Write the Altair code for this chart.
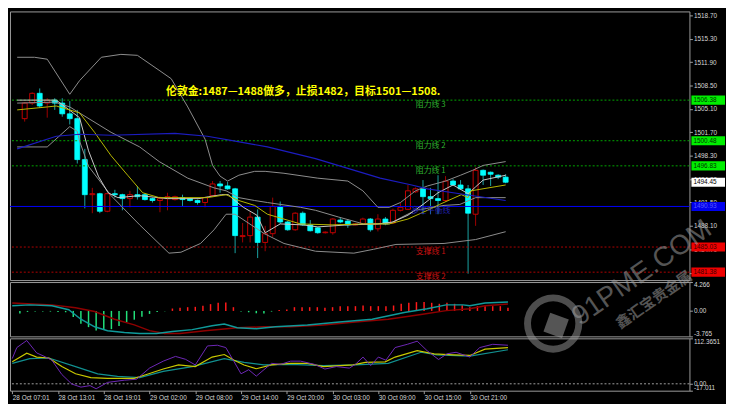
import json
import altair as alt
import pandas as pd

# ---------------- data ----------------
bars = list(range(1, 66))
opens = [1503.69, 1505.95, 1507.37, 1505.95, 1506.38, 1505.95, 1504.39, 1503.69, 1497.74, 1492.64,
         1492.78, 1490.23, 1492.78, 1492.64, 1492.07, 1492.64, 1492.64, 1492.07, 1491.79, 1492.07,
         1491.93, 1492.21, 1492.07, 1491.79, 1491.50, 1492.50, 1494.20, 1493.91, 1493.49, 1486.55,
         1486.69, 1489.38, 1485.70, 1486.97, 1490.94, 1488.67, 1487.54, 1489.95, 1488.25, 1487.82,
         1487.11, 1487.11, 1488.95, 1488.81, 1488.25, 1488.39, 1489.10, 1487.68, 1489.10, 1488.53,
         1490.37, 1490.51, 1493.06, 1493.49, 1492.35, 1492.07, 1491.79, 1494.62, 1494.05, 1493.49,
         1489.80, 1496.18, 1495.90, 1495.47, 1495.19]
highs = [1506.09, 1507.51, 1508.08, 1506.66, 1506.66, 1506.66, 1506.24, 1504.96, 1499.30, 1493.63,
         1492.92, 1492.92, 1493.35, 1492.78, 1493.20, 1493.91, 1492.78, 1492.21, 1492.35, 1492.92,
         1492.50, 1492.64, 1492.21, 1491.93, 1492.35, 1494.62, 1494.62, 1494.48, 1493.63, 1488.53,
         1490.09, 1490.51, 1488.11, 1492.21, 1491.65, 1488.81, 1490.09, 1490.20, 1488.95, 1487.96,
         1487.30, 1489.24, 1489.38, 1489.10, 1488.50, 1489.30, 1489.24, 1489.80, 1489.40, 1490.60,
         1491.50, 1494.05, 1493.70, 1494.76, 1493.63, 1495.47, 1495.33, 1494.90, 1494.76, 1494.05,
         1496.60, 1496.30, 1496.00, 1495.60, 1495.61]
lows = [1503.26, 1505.67, 1505.24, 1503.83, 1504.96, 1503.97, 1502.84, 1497.17, 1490.65, 1489.95,
        1489.95, 1490.09, 1492.21, 1490.37, 1490.80, 1491.93, 1491.79, 1491.50, 1490.09, 1490.37,
        1491.79, 1491.00, 1491.65, 1491.20, 1490.80, 1492.35, 1492.92, 1493.35, 1484.14, 1485.70,
        1485.70, 1483.43, 1484.42, 1486.50, 1488.39, 1487.40, 1487.40, 1488.10, 1487.30, 1486.97,
        1487.00, 1486.83, 1488.50, 1487.82, 1488.20, 1488.30, 1487.26, 1487.30, 1488.20, 1488.39,
        1490.20, 1490.40, 1492.90, 1489.80, 1489.80, 1489.80, 1491.60, 1493.90, 1493.35, 1481.16,
        1488.11, 1494.05, 1493.91, 1494.90, 1494.30]
closes = [1505.95, 1507.37, 1505.53, 1506.38, 1505.95, 1504.39, 1503.69, 1497.74, 1492.64, 1492.78,
          1490.23, 1492.78, 1492.64, 1492.07, 1492.64, 1492.35, 1491.93, 1491.79, 1492.07, 1492.35,
          1492.35, 1491.93, 1491.79, 1491.50, 1492.21, 1494.20, 1493.91, 1493.49, 1486.69, 1486.69,
          1489.38, 1485.70, 1486.97, 1490.94, 1488.67, 1487.54, 1489.95, 1488.25, 1487.40, 1487.11,
          1487.20, 1489.10, 1488.67, 1488.25, 1488.39, 1489.10, 1487.54, 1489.10, 1488.39, 1490.37,
          1490.80, 1493.20, 1493.49, 1492.35, 1492.07, 1491.79, 1494.62, 1494.05, 1493.49, 1489.95,
          1496.18, 1495.47, 1495.61, 1495.19, 1494.45]

# Bollinger bands and moving averages (bar, price)
upper_bar = [0, 2.3, 4, 7, 8.3, 11.2, 13.8, 16, 19, 20.5, 22.7, 25, 26, 27, 28, 29.5, 31.6, 33, 35.5, 40,
             44, 46, 48, 49.5, 51, 53, 54.6, 57, 59, 60.6, 62, 65]
upper_val = [1512.61, 1512.61, 1512.33, 1507.23, 1509.21, 1512.61, 1513.03, 1512.89, 1510.63, 1509.49,
             1505.39, 1500.71, 1496.89, 1495.33, 1494.62, 1495.47, 1496.03, 1496.03, 1495.75, 1495.04,
             1494.62, 1493.20, 1490.80, 1490.80, 1491.50, 1493.20, 1493.91, 1494.62, 1495.47, 1496.18,
             1496.89, 1497.45]
lower_bar = [0, 4, 7, 8, 8.3, 9.5, 12.5, 16.3, 20.2, 21.8, 24.4, 26.2, 27.8, 29, 32.9, 35.5, 39.7, 44.8,
             47.4, 50.4, 56.8, 61, 65]
lower_val = [1499.58, 1499.58, 1502.53, 1501.84, 1500.43, 1496.75, 1492.50, 1488.25, 1484.14, 1484.28,
             1485.55, 1487.54, 1489.80, 1489.80, 1486.97, 1485.55, 1484.42, 1484.14, 1484.70, 1485.41,
             1485.55, 1486.12, 1487.26]
mid_bar = [0, 5, 7, 12.5, 16.3, 18.9, 22.7, 26.2, 27.8, 29.5, 31.6, 33.3, 37.7, 39.7, 42.8, 46.1, 49.5,
           51.2, 53, 56.8, 58.9, 61, 65]
mid_val = [1505.95, 1506.09, 1505.39, 1501.70, 1499.58, 1497.45, 1495.04, 1493.63, 1493.20, 1492.21,
           1491.79, 1491.50, 1490.80, 1490.37, 1489.38, 1488.39, 1488.39, 1489.38, 1490.37, 1491.08,
           1491.22, 1492.21, 1492.21]
fast_bar = [0, 5.2, 8.3, 9.5, 10.8, 12.1, 13.4, 16.3, 20, 24.2, 25.5, 27.2, 28.1, 28.8, 30.1, 31.9, 33,
            35, 38, 40, 44, 48, 50, 52, 54, 56, 58, 60, 61, 62, 65]
fast_val = [1506.38, 1506.38, 1503.83, 1499.01, 1495.33, 1492.92, 1492.21, 1492.50, 1492.07, 1492.07,
            1492.35, 1492.64, 1492.64, 1491.93, 1490.80, 1489.66, 1487.10, 1488.39, 1488.25, 1487.96,
            1488.25, 1488.39, 1488.67, 1489.66, 1491.22, 1492.92, 1494.05, 1492.78, 1493.77, 1494.76,
            1495.47]
yel_bar = [0, 4, 5.2, 8.3, 10.3, 12.5, 14.7, 16.7, 18.9, 25.3, 27.8, 29.5, 31.6, 33.3, 37.7, 41.9, 46.1,
           49.5, 52, 54.6, 56.2, 59.1, 60, 60.4, 65]
yel_val = [1504.96, 1505.39, 1505.53, 1504.53, 1501.70, 1498.30, 1495.47, 1492.92, 1492.21, 1492.21,
           1492.64, 1491.79, 1491.08, 1489.80, 1488.39, 1488.25, 1488.39, 1488.39, 1489.10, 1490.37,
           1491.22, 1492.64, 1492.21, 1493.20, 1494.05]
blue_bar = [0, 5.2, 8.3, 12.5, 21, 25.3, 29, 33.3, 39.7, 44, 48.3, 52.5, 54.6, 58.9, 65]
blue_val = [1499.29, 1501.13, 1501.42, 1501.28, 1501.56, 1501.13, 1500.43, 1499.58, 1497.88, 1496.46,
            1495.04, 1494.05, 1493.49, 1492.78, 1491.79]

# horizontal levels
resist_prices = [1506.38, 1500.48, 1496.83]
resist_names = ["阻力线 3", "阻力线 2", "阻力线 1"]
support_prices = [1485.03, 1481.38]
support_names = ["支撑线 1", "支撑线 2"]
balance_price = 1490.93
balance_name = "多空平衡线"
current_price = 1494.45
title_text = "伦敦金:1487—1488做多，止损1482，目标1501—1508."

price_ticks = [1518.70, 1515.30, 1511.90, 1508.50, 1505.10, 1501.70, 1498.30, 1494.90,
               1491.50, 1488.10, 1484.70, 1481.30]

# MACD panel
hist = [-0.4, -0.15, -0.1, -0.1, -0.1, -0.15, -0.2, -0.9, -1.9, -2.4,
        -2.9, -2.8, -2.7, -2.25, -1.65, -1.3, -0.85, -0.45, -0.15, -0.05,
        0.35, 0.45, 0.55, 0.6, 0.75, 1.0, 1.2, 1.25, 0.55, -0.1,
        -0.2, -0.35, -0.4, -0.1, 0.15, 0.2, 0.55, 0.55, 0.55, 0.55,
        0.45, 0.55, 0.7, 0.7, 0.7, 0.8, 0.7, 0.7, 0.7, 0.8,
        1.05, 1.2, 1.3, 1.3, 1.2, 1.05, 1.2, 1.05, 0.85, 0.55,
        0.7, 0.7, 0.7, 0.7, 0.45]
macd_bar = [0, 2.3, 5.2, 7.4, 9, 10.8, 12.5, 14.7, 16.7, 18.9, 21, 23.6, 26.2, 27.8, 29.5, 32, 34.5,
            38.7, 42.9, 47.2, 51.4, 54.4, 56.9, 59.1, 60, 62, 65]
macd_val = [0.75, 0.89, 0.75, 0.18, -1.23, -2.35, -2.92, -3.2, -3.34, -3.34, -3.06, -2.77, -2.21,
            -1.93, -2.49, -2.63, -2.35, -2.07, -1.65, -1.23, -0.24, 0.32, 0.89, 0.89, 0.75, 1.17, 1.31]
signal_bar = [0, 5.2, 8.3, 10.8, 13.4, 16, 18, 20, 22, 25.3, 29.5, 33, 36.5, 40.8, 45, 49.3, 53.6,
              56.9, 60, 62, 65]
signal_val = [1.17, 0.89, 0.46, -0.1, -1.23, -2.07, -2.92, -3.34, -3.34, -2.92, -2.49, -2.35, -2.35,
              -2.07, -1.65, -1.23, -0.52, 0.04, 0.32, 0.75, 1.03]
macd_ticks = [4.266, 0.0, -3.765]
macd_tick_labels = ["4.266", "0.00", "-3.765"]

# oscillator panel
purple_bar = [0, 0.6, 1.9, 3.2, 4.4, 5.2, 6.5, 7.8, 9, 10.2, 11, 12.5, 14.7, 16.3, 18, 19.8, 21.4,
              22.7, 24, 25.6, 26.9, 28, 29.1, 30, 31, 32, 34, 35.2, 36.5, 37.8, 39.6, 41, 42.5, 44.2,
              45, 46, 47, 48, 49, 50.2, 51.8, 53.1, 54.4, 55.9, 57, 58.2, 60, 61.3, 63, 65]
purple_val = [62.3, 89.6, 107, 76.4, 66.1, 58.3, 23, -0.5, -8.2, -4.5, -12.2, 3.5, 8.9, 11.3, 38.8,
              56, 67.7, 60.7, 46.6, 93.6, 95.3, 89.6, 54.3, 24.7, 34.8, 19, 50.6, 48.2, 56, 56, 48.2,
              36.5, 42.6, 38.8, 48.2, 66.1, 44.9, 66.1, 58.3, 89.6, 97.6, 105.4, 81.8, 60, 74.1,
              77.9, 66.1, 89.6, 97.6, 95.3]
yosc_bar = [0, 1.9, 3.2, 4.8, 6.5, 8.3, 10.3, 12.5, 16, 17.6, 19.8, 21.8, 24, 26.2, 27.8, 29.1, 30.4,
            32, 34, 36.5, 38.7, 40.8, 44.7, 46.3, 48.9, 50.2, 53.1, 55.3, 57.8, 60, 62, 65]
yosc_val = [54.3, 75.5, 66.1, 63.7, 42.6, 24.7, 15.3, 13.6, 13.6, 23, 36.5, 46.6, 42.6, 66.1, 72.4,
            58.3, 46.6, 37.2, 46.6, 50.6, 50.6, 42.6, 46.6, 52.9, 54.3, 66.1, 81.8, 74.1, 71.7, 70.1,
            85.8, 89.6]
tosc_bar = [0, 2.3, 4.8, 8.3, 11.2, 13.8, 16.7, 19.8, 23.6, 27.8, 30.4, 33, 36.5, 40.8, 45, 49.3,
            53.6, 55.7, 60, 65]
tosc_val = [50.6, 62.3, 63.7, 42.6, 24.7, 18.3, 15.3, 30.8, 42.6, 62.3, 52.9, 46.6, 48.2, 44.9, 46.6,
            50.6, 77.9, 71.7, 68.4, 84.2]
osc_ticks = [112.3651, 0.0, -17.011]
osc_tick_labels = ["112.3651", "0.00", "-17.011"]

tick_bars = [0, 6, 12, 18, 24, 30, 36, 42, 48, 54, 60]
tick_labels = ["28 Oct 07:01", "28 Oct 13:01", "28 Oct 19:01", "29 Oct 02:00", "29 Oct 08:00",
               "29 Oct 14:00", "29 Oct 20:00", "30 Oct 03:00", "30 Oct 09:00", "30 Oct 15:00",
               "30 Oct 21:00"]

# ---------------- layout / style ----------------
W = 688
H_MAIN, H_MACD, H_OSC = 272, 55, 53
X_DOMAIN = [-0.3, 88.8]
AX_FONT = "Liberation Sans"
CJK = "Noto Sans CJK SC"
LBL = "#d8d8d8"

candles = pd.DataFrame({"bar": bars, "open": opens, "high": highs, "low": lows, "close": closes})
candles["up"] = candles["close"] > candles["open"]
bull = candles[candles["up"]]
bear = candles[~candles["up"]]


def line_df(b, v):
    return pd.DataFrame({"bar": b, "v": v})


def xenc(axis=None):
    return alt.X("bar:Q", scale=alt.Scale(domain=X_DOMAIN, nice=False, zero=False), axis=axis, title=None)


def yaxis(values, expr=None, fmt=None):
    kw = dict(orient="right", values=values, labelColor=LBL, tickColor="#a0a0a0", tickSize=3,
              labelPadding=1, labelFontSize=6.5, labelFont=AX_FONT, domain=False, grid=False,
              labelOverlap=False, labelFlush=True, title=None)
    if expr:
        kw["labelExpr"] = expr
    if fmt:
        kw["format"] = fmt
    return alt.Axis(**kw)


main_scale = alt.Scale(domain=[1480.23, 1519.27], nice=False, zero=False)
main_axis = yaxis(price_ticks, fmt=".2f")


def ymain(field):
    return alt.Y(f"{field}:Q", scale=main_scale, axis=main_axis, title=None)


wick_bear = alt.Chart(bear).mark_rule(color="#1aa3a3", strokeWidth=1).encode(
    x=xenc(), y=ymain("low"), y2="high:Q")
wick_bull = alt.Chart(bull).mark_rule(color="#a00000", strokeWidth=1).encode(
    x=xenc(), y=ymain("low"), y2="high:Q")
body_bear = alt.Chart(bear).mark_bar(width=5, fill="#00ffff", stroke="#00ffff", strokeWidth=0.8).encode(
    x=xenc(), y=ymain("open"), y2="close:Q")
body_bull = alt.Chart(bull).mark_bar(width=5, fill="#000000", stroke="#c40000", strokeWidth=1).encode(
    x=xenc(), y=ymain("open"), y2="close:Q")

resist = pd.DataFrame({"price": resist_prices, "name": resist_names})
support = pd.DataFrame({"price": support_prices, "name": support_names})
bal = pd.DataFrame({"price": [balance_price], "name": [balance_name]})


def hline(df, color, dash=None):
    kw = dict(color=color, strokeWidth=1)
    if dash:
        kw["strokeDash"] = dash
    return alt.Chart(df).mark_rule(**kw).encode(y=ymain("price"))


def hlabel(df, color):
    return alt.Chart(df).mark_text(align="center", baseline="top", dy=1, fontSize=8, font=CJK,
                                   color=color).encode(x=alt.value(426), y=ymain("price"), text="name:N")


res_line = hline(resist, "#00a800", [2, 2])
sup_line = hline(support, "#b00000", [2, 2])
bal_line = hline(bal, "#0000ff")
res_text = hlabel(resist, "#2fb02f")
sup_text = hlabel(support, "#c81010")
bal_text = hlabel(bal, "#2020b0")


def ind_line(b, v, color, width=1.0):
    return alt.Chart(line_df(b, v)).mark_line(color=color, strokeWidth=width).encode(
        x=xenc(), y=ymain("v"))


upper_l = ind_line(upper_bar, upper_val, "#8e8e8e")
lower_l = ind_line(lower_bar, lower_val, "#8e8e8e")
mid_l = ind_line(mid_bar, mid_val, "#8e8e8e")
fast_l = ind_line(fast_bar, fast_val, "#c8c8c8")
yel_l = ind_line(yel_bar, yel_val, "#b8b800")
blue_l = ind_line(blue_bar, blue_val, "#1c1cc0", 1.2)

title = alt.Chart(pd.DataFrame({"t": [title_text]})).mark_text(
    align="left", baseline="middle", fontSize=11, fontWeight="bold", font=CJK,
    color="#ffff00").encode(x=alt.value(158), y=alt.value(82), text="t:N")


# coloured price boxes on the right axis
def price_box(prices, fill, text_color):
    df = pd.DataFrame({"price": prices})
    rect = alt.Chart(df).transform_calculate(
        lo="datum.price - 0.66", hi="datum.price + 0.66").mark_rect(fill=fill).encode(
        x=alt.value(W + 2), x2=alt.value(W + 36), y=ymain("lo"), y2="hi:Q")
    txt = alt.Chart(df).mark_text(align="left", baseline="middle", fontSize=6.5, font=AX_FONT,
                                  color=text_color).encode(
        x=alt.value(W + 4), y=ymain("price"), text=alt.Text("price:Q", format=".2f"))
    return [rect, txt]


boxes = (price_box(resist_prices, "#00ee00", "#003300")
         + price_box([current_price], "#ffffff", "#000000")
         + price_box([balance_price], "#0000ee", "#5a5aff")
         + price_box(support_prices, "#ee0000", "#400000"))

# watermark
one = pd.DataFrame({"t": ["91PME.COM"], "c": ["鑫汇宝贵金属"]})
wm1 = alt.Chart(one).mark_text(angle=325, fontSize=28, font="Liberation Sans", color="#9a9a9a",
                               opacity=0.55, align="center", baseline="middle").encode(
    x=alt.value(640), y=alt.value(265), text="t:N")
wm2 = alt.Chart(one).mark_text(angle=325, fontSize=15, font=CJK, fontWeight="bold",
                               color="#9a9a9a", opacity=0.55, align="center", baseline="middle").encode(
    x=alt.value(652), y=alt.value(292), text="c:N")
wm_ring = alt.Chart(one).mark_point(shape="circle", size=2700, filled=False, strokeWidth=7,
                                    color="#9a9a9a", opacity=0.5).encode(
    x=alt.value(550), y=alt.value(316))
wm_sq = alt.Chart(one).mark_point(shape="square", size=400, filled=True, angle=20,
                                  color="#9a9a9a", opacity=0.55).encode(
    x=alt.value(553), y=alt.value(318))

main = alt.layer(
    wick_bear, wick_bull, body_bear, body_bull,
    res_line, sup_line, bal_line,
    upper_l, lower_l, mid_l, fast_l, yel_l, blue_l,
    res_text, sup_text, bal_text, title, *boxes,
    wm1, wm2, wm_ring, wm_sq,
).properties(width=W, height=H_MAIN)

# ---------------- MACD ----------------
macd_scale = alt.Scale(domain=[-3.765, 4.266], nice=False, zero=False)
macd_axis = yaxis(macd_ticks, expr=f"{json.dumps(macd_tick_labels)}[indexof({json.dumps(macd_ticks)}, datum.value)]")


def ymacd(field):
    return alt.Y(f"{field}:Q", scale=macd_scale, axis=macd_axis, title=None)


hist_df = pd.DataFrame({"bar": bars, "h": hist})
hist_up = alt.Chart(hist_df).transform_filter("datum.h >= 0").transform_calculate(z="0").mark_rule(
    strokeWidth=1.5, color="#ff1a1a").encode(x=xenc(), y=ymacd("h"), y2="z:Q")
hist_dn = alt.Chart(hist_df).transform_filter("datum.h < 0").transform_calculate(z="0").mark_rule(
    strokeWidth=1.5, color="#22e07a").encode(x=xenc(), y=ymacd("h"), y2="z:Q")
macd_l = alt.Chart(line_df(macd_bar, macd_val)).mark_line(color="#0f9a9a", strokeWidth=1.5).encode(
    x=xenc(), y=ymacd("v"))
sig_l = alt.Chart(line_df(signal_bar, signal_val)).mark_line(color="#8f0000", strokeWidth=1.5).encode(
    x=xenc(), y=ymacd("v"))
macd_panel = alt.layer(hist_up, hist_dn, sig_l, macd_l).properties(width=W, height=H_MACD)

# ---------------- oscillator ----------------
osc_scale = alt.Scale(domain=[-17.011, 112.3651], nice=False, zero=False)
osc_axis = yaxis(osc_ticks, expr=f"{json.dumps(osc_tick_labels)}[indexof({json.dumps(osc_ticks)}, datum.value)]")
x_axis = alt.Axis(values=tick_bars, labelExpr=f"{json.dumps(tick_labels)}[round(datum.value / 6)]",
                  labelAlign="left", labelPadding=1, tickSize=3, labelFontSize=6.5, labelFont=AX_FONT,
                  labelColor=LBL, tickColor="#a0a0a0", domain=False, grid=False, labelOverlap=False,
                  labelFlush=False, title=None)


def yosc(field):
    return alt.Y(f"{field}:Q", scale=osc_scale, axis=osc_axis, title=None)


zero_l = alt.Chart(pd.DataFrame({"v": [0.0]})).mark_rule(color="#a0a0a0", strokeDash=[2, 2]).encode(
    y=yosc("v"))
p_l = alt.Chart(line_df(purple_bar, purple_val)).mark_line(color="#6f28b8", strokeWidth=1).encode(
    x=xenc(x_axis), y=yosc("v"))
yo_l = alt.Chart(line_df(yosc_bar, yosc_val)).mark_line(color="#c8c800", strokeWidth=1.2).encode(
    x=xenc(x_axis), y=yosc("v"))
to_l = alt.Chart(line_df(tosc_bar, tosc_val)).mark_line(color="#119090", strokeWidth=1.2).encode(
    x=xenc(x_axis), y=yosc("v"))
osc_panel = alt.layer(zero_l, to_l, yo_l, p_l).properties(width=W, height=H_OSC)

chart = alt.vconcat(main, macd_panel, osc_panel, spacing=2, bounds="flush").properties(
    background="#000000", padding=0
).configure_view(stroke="#9b9b9b", strokeWidth=1).configure_axis(labelFont=AX_FONT)

chart.save("out.html", embed_options={"renderer": "svg", "actions": False})
